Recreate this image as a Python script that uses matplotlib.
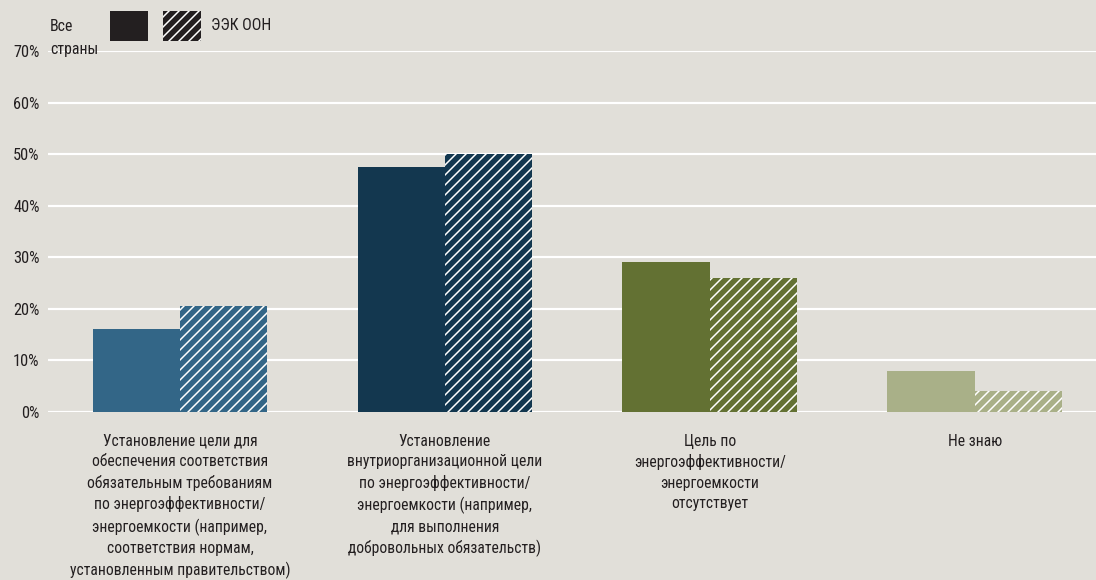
import matplotlib
matplotlib.use("Agg")
import matplotlib.pyplot as plt
from matplotlib.patches import Rectangle
import numpy as np

# shares of respondents, %
categories = [
    "Установление цели для\nобеспечения соответствия\nобязательным требованиям\nпо энергоэффективности/\nэнергоемкости (например,\nсоответствия нормам,\nустановленным правительством)",
    "Установление\nвнутриорганизационной цели\nпо энергоэффективности/\nэнергоемкости (например,\nдля выполнения\nдобровольных обязательств)",
    "Цель по\nэнергоэффективности/\nэнергоемкости\nотсутствует",
    "Не знаю",
]
all_countries = [16, 47.5, 29, 8]
unece = [20.5, 50, 26, 4]
yticks = [0, 10, 20, 30, 40, 50, 60, 70]
colors = ["#336687", "#13374f", "#637133", "#a9b088"]

bg = "#e1dfd9"
ink = "#231f20"

plt.rcParams["font.family"] = ["Roboto Condensed", "DejaVu Sans"]
plt.rcParams["font.stretch"] = "condensed"
plt.rcParams["hatch.linewidth"] = 0.9

fig = plt.figure(figsize=(1096 / 120, 580 / 120), dpi=120, facecolor=bg)
ax = fig.add_axes([0.0438, 0.2897, 0.9562, 0.6223])
ax.set_facecolor(bg)

x = np.arange(len(categories))
w = 0.33
ax.bar(x - w / 2, all_countries, width=w, color=colors, linewidth=0, zorder=3)
ax.bar(x + w / 2, unece, width=w, color=colors, edgecolor="white",
       hatch="////", linewidth=0, zorder=3)

ax.set_xlim(-0.498, 3.457)
ax.set_ylim(0, 70)
ax.set_yticks(yticks)
ax.set_yticklabels([f"{v}%" for v in yticks], fontsize=9.8, color=ink)
ax.yaxis.grid(True, color="white", linewidth=1.3, zorder=0)
ax.tick_params(axis="y", length=0, pad=5)
ax.set_xticks(x)
ax.set_xticklabels(categories, fontsize=9.4, color=ink, va="top")
for t in ax.get_xticklabels():
    t.set_linespacing(1.44)
ax.tick_params(axis="x", length=0, pad=13)
for s in ax.spines.values():
    s.set_visible(False)
ax.set_axisbelow(True)

# legend in the top-left corner
fig.text(50 / 1096, 1 - 38 / 580, "Все\nстраны", fontsize=9.5, color=ink,
         va="center", ha="left", linespacing=1.65)
fig.patches.append(Rectangle((110 / 1096, 1 - 41 / 580), 38 / 1096, 30 / 580,
                             transform=fig.transFigure, facecolor=ink,
                             linewidth=0))
fig.patches.append(Rectangle((163 / 1096, 1 - 41 / 580), 38 / 1096, 30 / 580,
                             transform=fig.transFigure, facecolor=ink,
                             edgecolor="white", hatch="////", linewidth=0))
fig.text(211 / 1096, 1 - 26 / 580, "ЭЭК ООН", fontsize=9.5, color=ink,
         va="center", ha="left")

fig.savefig("out.png", dpi=120, facecolor=bg)
